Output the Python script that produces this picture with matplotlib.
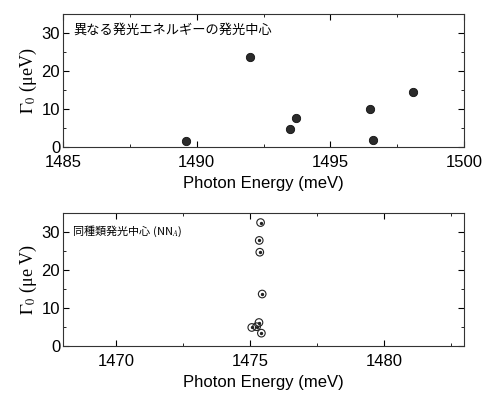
import matplotlib.pyplot as plt
from matplotlib.ticker import MultipleLocator

plt.rcParams['font.family'] = ['Liberation Sans', 'DejaVu Sans']
plt.rcParams['mathtext.fontset'] = 'stix'

# emission centres at different photon energies
energy_diff = [1489.6, 1492.0, 1493.5, 1493.7, 1496.5, 1496.6, 1498.1]
gamma_diff = [1.7, 23.8, 4.7, 7.5, 9.9, 1.8, 14.4]

# emission centres of the same kind (NN_A)
energy_same = [1475.39, 1475.34, 1475.36, 1475.45, 1475.33, 1475.06, 1475.24, 1475.42]
gamma_same = [32.4, 27.7, 24.6, 13.6, 6.1, 4.8, 5.0, 3.3]

label_diff = '異なる発光エネルギーの発光中心'
label_same = '同種類発光中心 (NN$_A$)'

fig = plt.figure(figsize=(4.9, 3.98), dpi=100)
ax1 = fig.add_axes([0.1286, 0.6307, 0.8184, 0.3341])
ax2 = fig.add_axes([0.1286, 0.1314, 0.8184, 0.3342])

ax1.scatter(energy_diff, gamma_diff, s=36, color='#2b2b2b', edgecolors='#111111',
            linewidths=0.6, zorder=3)
ax1.set_xlim(1485, 1500)

ax2.scatter(energy_same, gamma_same, s=30, facecolors='none', edgecolors='#222222',
            linewidths=0.8, zorder=3)
ax2.scatter(energy_same, gamma_same, s=2, color='#222222', zorder=4)
ax2.set_xlim(1468, 1483)

cjk = ['Noto Sans CJK JP', 'DejaVu Sans']
ax1.text(0.025, 0.88, label_diff, transform=ax1.transAxes, fontsize=9.5,
         family=cjk, va='center')
ax2.text(0.022, 0.86, label_same, transform=ax2.transAxes, fontsize=8,
         family=cjk, va='center')

for ax in (ax1, ax2):
    ax.set_ylim(0, 35)
    ax.yaxis.set_major_locator(MultipleLocator(10))
    ax.yaxis.set_minor_locator(MultipleLocator(5))
    ax.xaxis.set_major_locator(MultipleLocator(5))
    ax.xaxis.set_minor_locator(MultipleLocator(2.5))
    ax.tick_params(which='both', direction='in', top=True, right=True,
                   labelsize=12, pad=2)
    ax.tick_params(axis='x', pad=6)
    ax.tick_params(which='major', length=4)
    ax.tick_params(which='minor', length=2)
    for sp in ax.spines.values():
        sp.set_linewidth(0.8)
        sp.set_color('#333333')
    ax.set_xlabel('Photon Energy (meV)', fontsize=12, labelpad=4)

ax1.set_ylabel(r'$\Gamma_0$ (μeV)', fontsize=13, family='Liberation Serif', labelpad=2)
ax2.set_ylabel(r'$\Gamma_0$ (μe V)', fontsize=13, family='Liberation Serif', labelpad=2)

fig.savefig('out.png', dpi=100)
